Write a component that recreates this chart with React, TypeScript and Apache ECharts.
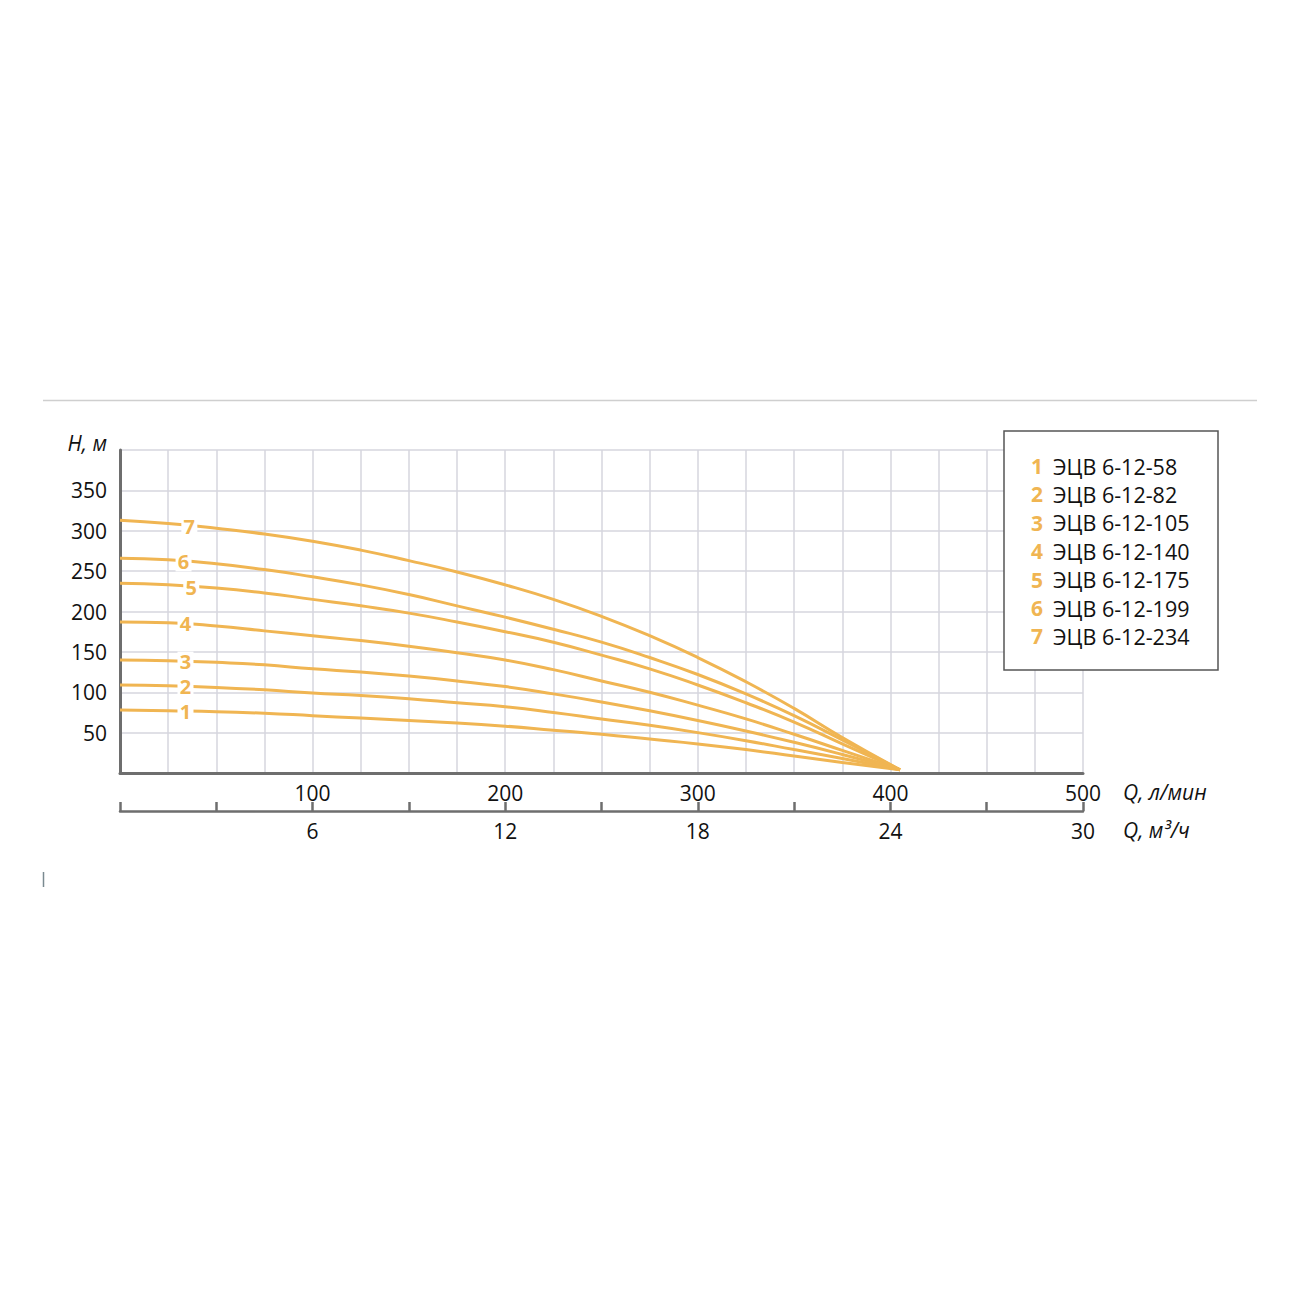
import React, { useEffect, useRef } from "react";
import * as echarts from "echarts";

const flowQ = [0, 25, 50, 75, 100, 125, 150, 175, 200, 225, 250, 275, 300, 325, 350, 375, 405];
const curve1 = [78, 77, 76, 74, 71, 68, 65, 62, 58, 53, 48, 42, 36, 29, 21, 13, 4];
const curve2 = [109, 108, 106, 103, 99, 96, 92, 87, 82, 75, 67, 59, 50, 40, 29, 18, 4];
const curve3 = [140, 139, 137, 134, 129, 125, 120, 114, 107, 98, 88, 77, 65, 52, 38, 23, 4];
const curve4 = [187, 186, 182, 176, 170, 164, 157, 149, 140, 128, 114, 100, 84, 67, 48, 28, 4];
const curve5 = [235, 233, 229, 223, 215, 207, 198, 187, 175, 162, 146, 129, 109, 87, 63, 36, 4];
const curve6 = [266, 264, 259, 252, 243, 233, 221, 207, 193, 178, 162, 143, 122, 98, 71, 41, 4];
const curve7 = [313, 309, 303, 296, 287, 276, 263, 249, 233, 215, 194, 170, 143, 113, 80, 44, 4];
const curves = [curve1, curve2, curve3, curve4, curve5, curve6, curve7];
const curveNumbers = ["1", "2", "3", "4", "5", "6", "7"];
const modelNames = [
  "ЭЦВ 6-12-58",
  "ЭЦВ 6-12-82",
  "ЭЦВ 6-12-105",
  "ЭЦВ 6-12-140",
  "ЭЦВ 6-12-175",
  "ЭЦВ 6-12-199",
  "ЭЦВ 6-12-234",
];
const labelQ = [34, 34, 34, 34, 37, 33, 36];
const labelH = [76, 107, 138, 185, 230, 262, 305];

const ORANGE = "#F0B552";
const FONT = "'Open Sans', 'DejaVu Sans', sans-serif";

export default function App() {
  const ref = useRef<HTMLDivElement>(null);
  useEffect(() => {
    if (!ref.current) return;
    const chart = echarts.init(ref.current, undefined, { renderer: "svg" });
    const series = curves.map((c, i) => ({
      type: "line",
      name: modelNames[i],
      data: flowQ.map((q, j) => [q, c[j]]),
      smooth: 0.5,
      showSymbol: false,
      xAxisIndex: 0,
      yAxisIndex: 0,
      z: 3,
      lineStyle: { color: ORANGE, width: 3 },
      itemStyle: { color: ORANGE },
      markPoint: {
        symbol: "rect",
        symbolSize: [16, 20],
        itemStyle: { color: "#ffffff" },
        label: {
          show: true,
          position: "inside",
          formatter: curveNumbers[i],
          color: ORANGE,
          fontSize: 20,
          lineHeight: 18,
          fontWeight: "bold",
          fontFamily: FONT,
        },
        data: [{ coord: [labelQ[i], labelH[i]] }],
      },
    }));

    const legendChildren: any[] = [
      {
        type: "rect",
        z: 100,
        shape: { x: 1004, y: 431, width: 214, height: 239 },
        style: { fill: "#fff", stroke: "#555", lineWidth: 1.5 },
      },
    ];
    modelNames.forEach((name, i) => {
      const y = 466 + i * 28.4;
      legendChildren.push({
        type: "text",
        z: 101,
        x: 1037,
        y,
        style: {
          text: curveNumbers[i],
          fill: ORANGE,
          font: `bold 21px ${FONT}`,
          textAlign: "center",
          textVerticalAlign: "middle",
        },
      });
      legendChildren.push({
        type: "text",
        z: 101,
        x: 1053,
        y,
        style: {
          text: name,
          fill: "#111",
          font: `21.5px ${FONT}`,
          textAlign: "left",
          textVerticalAlign: "middle",
        },
      });
    });

    chart.setOption({
      animation: false,
      grid: { left: 120, right: 217, top: 450, bottom: 527, containLabel: false },
      xAxis: [
        {
          type: "value",
          min: 0,
          max: 500,
          interval: 25,
          position: "bottom",
          axisLine: { show: true, lineStyle: { color: "#6e6e6e", width: 3 } },
          axisTick: { show: false },
          splitLine: { show: true, lineStyle: { color: "#d6d6de", width: 1.5 } },
          axisLabel: {
            margin: 9,
            color: "#111",
            fontSize: 21,
            fontFamily: FONT,
            formatter: (v: number) => (v > 0 && v % 100 === 0 ? String(v) : ""),
          },
        },
        {
          type: "value",
          min: 0,
          max: 30,
          interval: 3,
          position: "bottom",
          offset: 38,
          axisLine: { show: true, onZero: false, lineStyle: { color: "#6e6e6e", width: 2.5 } },
          axisTick: { show: true, inside: true, length: 9, lineStyle: { color: "#6e6e6e", width: 2.5 } },
          splitLine: { show: false },
          axisLabel: {
            margin: 9,
            color: "#111",
            fontSize: 21,
            fontFamily: FONT,
            formatter: (v: number) => (v > 0 && v % 6 === 0 ? String(v) : ""),
          },
        },
      ],
      yAxis: {
        type: "value",
        min: 0,
        max: 400,
        interval: 50,
        axisLine: { show: true, lineStyle: { color: "#6e6e6e", width: 3 } },
        axisTick: { show: false },
        splitLine: { show: true, lineStyle: { color: "#d6d6de", width: 1.5 } },
        axisLabel: {
          margin: 13,
          color: "#111",
          fontSize: 21,
          fontFamily: FONT,
          formatter: (v: number) => (v > 0 && v < 400 ? String(v) : ""),
        },
      },
      series,
      graphic: [
        {
          type: "line",
          shape: { x1: 43, y1: 400.5, x2: 1257, y2: 400.5 },
          style: { stroke: "#cfcfcf", lineWidth: 1.5 },
        },
        {
          type: "line",
          shape: { x1: 43.5, y1: 872, x2: 43.5, y2: 887 },
          style: { stroke: "#7a8a90", lineWidth: 1.5 },
        },
        {
          type: "text",
          x: 107,
          y: 443,
          style: {
            text: "H, м",
            fill: "#111",
            font: `italic 21px ${FONT}`,
            textAlign: "right",
            textVerticalAlign: "middle",
          },
        },
        {
          type: "text",
          x: 1123,
          y: 792,
          style: {
            text: "Q, л/мин",
            fill: "#111",
            font: `italic 21px ${FONT}`,
            textAlign: "left",
            textVerticalAlign: "middle",
          },
        },
        {
          type: "text",
          x: 1123,
          y: 830,
          style: {
            text: "Q, м³/ч",
            fill: "#111",
            font: `italic 21px ${FONT}`,
            textAlign: "left",
            textVerticalAlign: "middle",
          },
        },
        { type: "group", z: 100, children: legendChildren },
      ],
    });
    return () => chart.dispose();
  }, []);
  return (
    <div
      ref={ref}
      style={{ position: "absolute", left: 0, top: 0, width: 1300, height: 1300, background: "#fff" }}
    />
  );
}
